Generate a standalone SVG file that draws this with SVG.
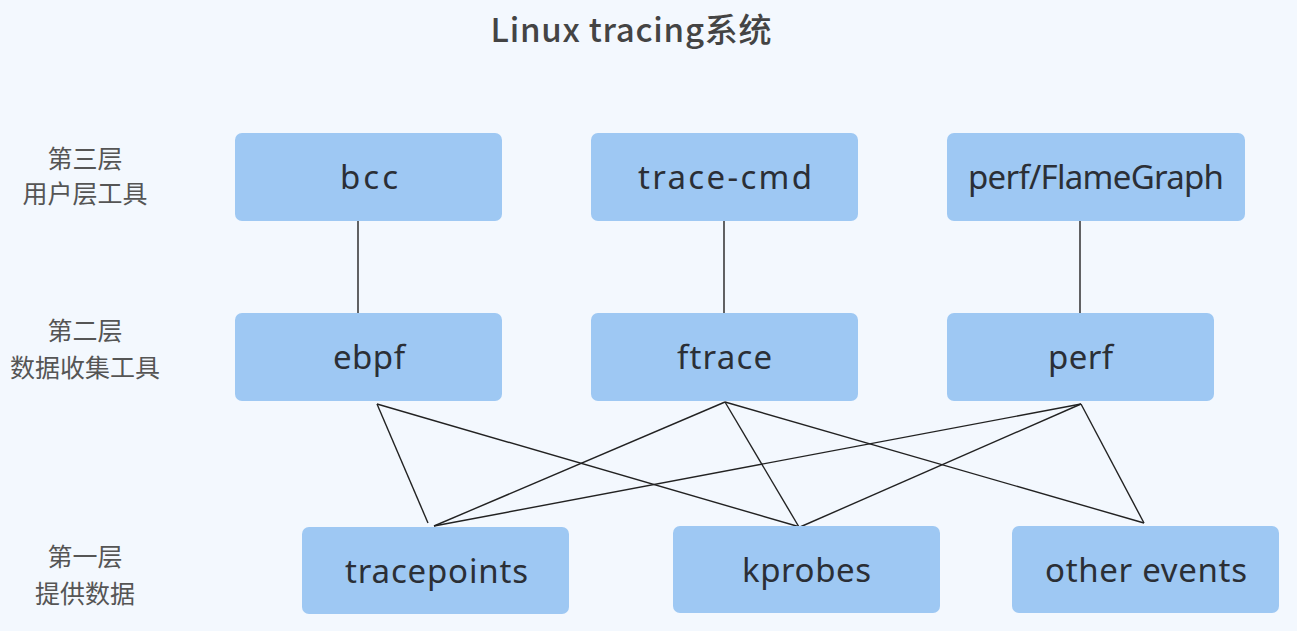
<svg xmlns="http://www.w3.org/2000/svg" width="1297" height="631" viewBox="0 0 1297 631">
<style>
.bg{fill:#f3f8fe}
.box{fill:#9ec8f3}
.t{font-family:"Noto Sans","Liberation Sans",Arial,sans-serif;font-size:33px;fill:#2b2f36;text-anchor:middle}
.lbl{font-family:"Noto Sans CJK SC","Noto Sans",sans-serif;font-size:25px;fill:#555;text-anchor:middle}
.title{font-family:"Noto Sans CJK SC","Noto Sans",sans-serif;font-size:33px;font-weight:500;fill:#444;text-anchor:middle}
.c{stroke:#222;stroke-width:1.4;fill:none}
</style>
<rect class="bg" x="0" y="0" width="1297" height="631"/>
<text class="title" x="631" y="42" textLength="281" lengthAdjust="spacing">Linux tracing系统</text>
<g id="labels">
<text class="lbl" x="85" y="168">第三层</text>
<text class="lbl" x="85" y="203">用户层工具</text>
<text class="lbl" x="85" y="340">第二层</text>
<text class="lbl" x="85" y="377">数据收集工具</text>
<text class="lbl" x="85" y="566">第一层</text>
<text class="lbl" x="85" y="603">提供数据</text>
</g>
<g id="connectors">
<line class="c" x1="358" y1="221" x2="358" y2="313"/>
<line class="c" x1="724" y1="221" x2="724" y2="313"/>
<line class="c" x1="1080" y1="221" x2="1080" y2="313"/>
<line class="c" x1="377" y1="404" x2="428" y2="523"/>
<line class="c" x1="377" y1="404" x2="800" y2="527"/>
<line class="c" x1="725" y1="402" x2="434" y2="526"/>
<line class="c" x1="725" y1="402" x2="799" y2="527"/>
<line class="c" x1="725" y1="402" x2="1144" y2="523"/>
<line class="c" x1="1081" y1="404" x2="434" y2="526"/>
<line class="c" x1="1081" y1="404" x2="800" y2="527"/>
<line class="c" x1="1081" y1="404" x2="1144" y2="523"/>
</g>
<g id="bcc"><rect class="box" x="235" y="133" width="267" height="88" rx="7"/><text class="t" x="369" y="189" textLength="58" lengthAdjust="spacing">bcc</text></g>
<g id="trace-cmd"><rect class="box" x="591" y="133" width="267" height="88" rx="7"/><text class="t" x="725" y="189" textLength="174" lengthAdjust="spacing">trace-cmd</text></g>
<g id="perf-flamegraph"><rect class="box" x="947" y="133" width="298" height="88" rx="7"/><text class="t" x="1096" y="189" textLength="256" lengthAdjust="spacing">perf/FlameGraph</text></g>
<g id="ebpf"><rect class="box" x="235" y="313" width="267" height="88" rx="7"/><text class="t" x="369" y="369" textLength="72" lengthAdjust="spacing">ebpf</text></g>
<g id="ftrace"><rect class="box" x="591" y="313" width="267" height="88" rx="7"/><text class="t" x="724.5" y="369" textLength="95" lengthAdjust="spacing">ftrace</text></g>
<g id="perf"><rect class="box" x="947" y="313" width="267" height="88" rx="7"/><text class="t" x="1080.5" y="369" textLength="65" lengthAdjust="spacing">perf</text></g>
<g id="tracepoints"><rect class="box" x="302" y="527" width="267" height="87" rx="7"/><text class="t" x="436.5" y="583" textLength="183" lengthAdjust="spacing">tracepoints</text></g>
<g id="kprobes"><rect class="box" x="673" y="526" width="267" height="87" rx="7"/><text class="t" x="806.5" y="582" textLength="129" lengthAdjust="spacing">kprobes</text></g>
<g id="other-events"><rect class="box" x="1012" y="526" width="267" height="87" rx="7"/><text class="t" x="1146" y="582" textLength="202" lengthAdjust="spacing">other events</text></g>
</svg>
